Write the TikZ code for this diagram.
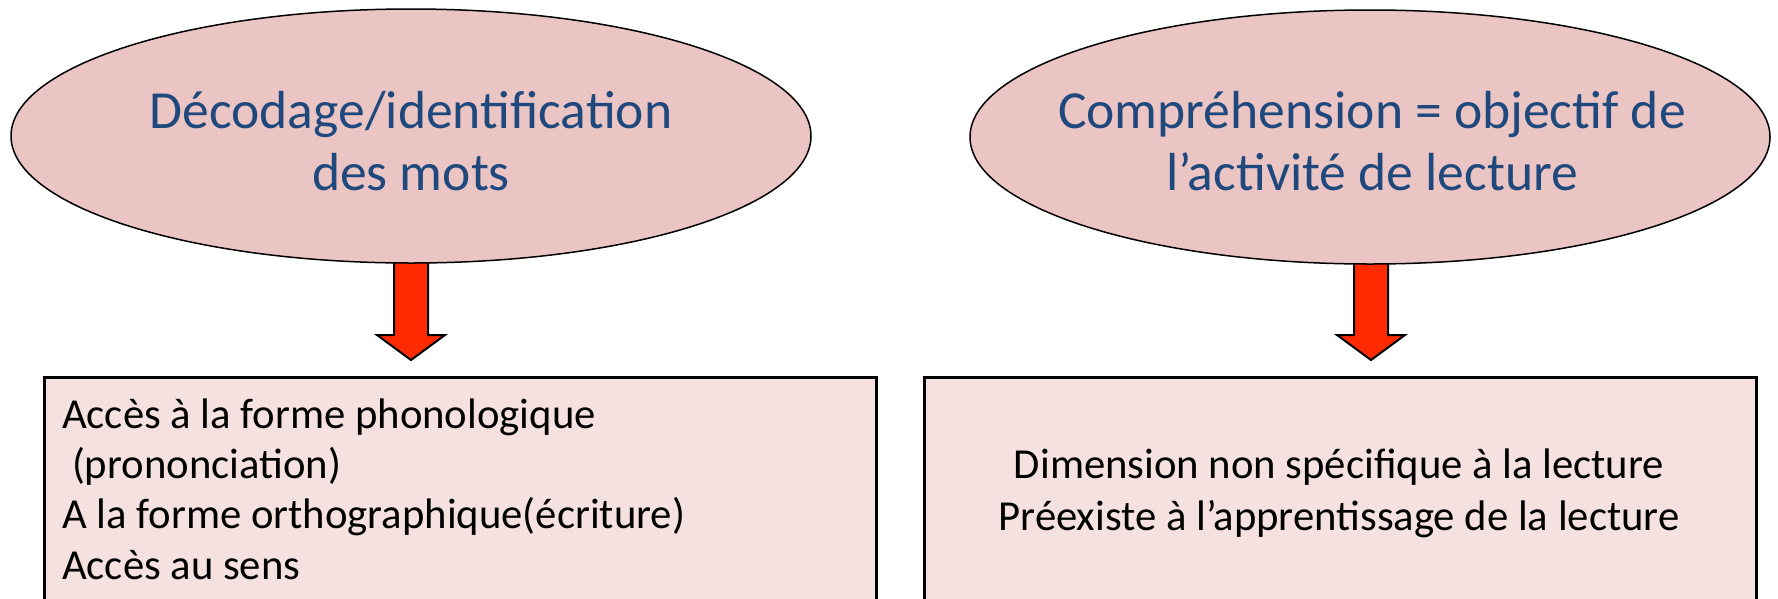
\documentclass[tikz,border=0pt]{standalone}
\usepackage{fontspec}
\setmainfont{Carlito}
\usetikzlibrary{shapes.geometric,calc}
\definecolor{ellfill}{HTML}{EBC5C4}
\definecolor{boxfill}{HTML}{F4E1E0}
\definecolor{txtblue}{HTML}{1F497D}
\definecolor{arrred}{HTML}{FF2A00}
\begin{document}
\begin{tikzpicture}[x=1pt,y=-1pt,
  ell/.style={ellipse, draw=black, line width=1.5pt, fill=ellfill, minimum width=800pt, minimum height=254pt, inner sep=0pt},
  etext/.style={text=txtblue, font=\fontsize{53.6}{62}\selectfont, align=center, anchor=base, inner sep=0pt},
  boxst/.style={draw=black, line width=3pt, fill=boxfill, anchor=north west, minimum height=260pt, inner sep=0pt},
  btext/.style={text=black, font=\fontsize{42.7}{50.3}\selectfont, inner sep=0pt, anchor=base west, align=left},
  ctext/.style={text=black, font=\fontsize{42.7}{52}\selectfont, inner sep=0pt, anchor=base, align=center},
  bigarrow/.style={draw=black, line width=2pt, fill=arrred, line join=miter}]
\useasboundingbox (0,0) rectangle (1778,598);
\clip (0,0) rectangle (1778,598);
% boxes
\node[boxst, minimum width=832pt] (b1) at (43,376) {};
\node[boxst, minimum width=832pt] (b2) at (923,376) {};
% arrows (drawn before ellipses so the shaft tops hide under them)
\coordinate (e1s) at (411,263);
\coordinate (e2s) at (1371,263);
\foreach \s in {e1s,e2s}{
  \draw[bigarrow] ($(\s)+(-17,-25)$) -- ($(\s)+(-17,72)$) -- ($(\s)+(-34,72)$)
     -- ($(\s)+(0,97)$) -- ($(\s)+(34,72)$) -- ($(\s)+(17,72)$) -- ($(\s)+(17,-25)$) -- cycle;
}
% ellipses
\node[ell] (e1) at (411,136) {};
\node[ell] (e2) at (1370,137) {};
\node[etext] (t1) at (411,190) {Décodage/identification\\des mots};
\node[etext] (t2) at (1372,190) {Compréhension = objectif de\\l’activité de lecture};
% box texts
\node[btext] (l1) at (62,579) {Accès à la forme phonologique\\\hspace*{.23em}(prononciation)\\A la forme orthographique(écriture)\\Accès au sens};
\node[ctext] (r1) at (1339,530) {Dimension non spécifique à la lecture\\Préexiste à l’apprentissage de la lecture};
\end{tikzpicture}
\end{document}
